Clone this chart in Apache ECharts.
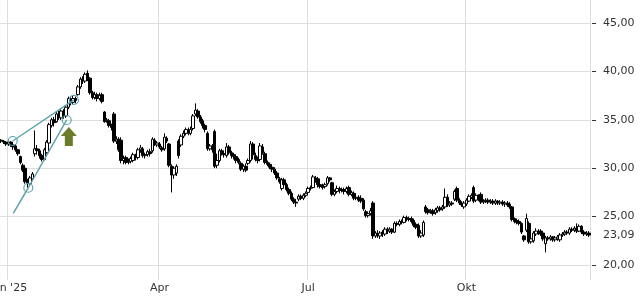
<!DOCTYPE html>
<html><head><meta charset="utf-8">
<script src="https://cdn.jsdelivr.net/npm/echarts@6/dist/echarts.min.js"></script>
<style>html,body{margin:0;padding:0;background:#fff}#c{width:640px;height:300px}</style>
</head><body><div id="c"></div>
<script>
// Calendar (categories = trading days)
const firstDay = '2024-12-23';
const lastDay = '2025-12-11';
const holidays = ['2024-12-24','2024-12-25','2024-12-26','2024-12-31','2025-01-01','2025-04-18','2025-04-21','2025-05-01'];
const quarterLabels = {'01': "Jan '25", '04': 'Apr', '07': 'Jul', '10': 'Okt'};
// Price axis
const yMin = 20, yMax = 45, yStep = 5;
const lastPrice = 23.09;
// Daily candles: [open, close, low, high]
const ohlc = [
[32.9,32.8,32.6,33.0],[32.8,32.7,32.5,32.9],[32.7,32.5,32.3,32.8],[32.5,32.7,32.3,32.9],[32.7,32.4,32.2,32.8],
[32.4,32.2,31.9,32.6],[32.3,31.9,31.7,32.5],[31.9,31.5,31.3,32.0],[31.2,30.6,30.4,31.3],[30.3,29.8,29.6,30.5],
[30.0,28.6,28.4,30.1],[28.6,28.4,28.0,28.9],[28.4,29.0,28.2,29.2],[28.9,29.4,28.7,29.6],[31.5,32.0,31.2,33.9],
[32.0,31.8,31.4,32.4],[31.8,31.3,31.0,32.0],[31.3,30.9,30.7,31.5],[30.9,31.9,30.8,32.1],[31.6,32.7,31.5,32.9],
[32.6,34.5,32.5,34.7],[34.4,35.0,34.2,35.2],[35.0,34.7,34.3,35.3],[34.8,35.6,34.7,35.8],[35.6,35.3,35.0,36.0],
[35.2,35.9,35.0,36.2],[35.9,35.5,35.1,36.1],[35.4,36.3,35.2,36.5],[36.3,37.2,36.1,37.4],[37.1,36.8,36.5,37.4],
[36.8,37.2,36.6,37.5],[37.2,37.0,36.7,37.4],[37.6,38.4,37.5,38.6],[38.4,39.2,38.2,39.4],[39.2,39.0,38.7,39.5],
[39.0,39.7,38.8,39.9],[39.8,39.3,39.0,40.1],[39.3,37.8,37.6,39.4],[37.8,37.3,37.1,38.0],[37.3,37.6,37.1,37.9],
[37.6,37.2,36.9,37.8],[37.2,37.5,37.0,37.8],[37.6,36.9,36.7,37.8],[35.8,34.8,34.7,35.9],[34.9,35.0,34.7,35.2],
[34.9,34.4,34.2,35.1],[34.4,34.2,33.9,34.6],[35.6,32.8,32.6,35.8],[32.8,33.0,32.5,33.3],[33.0,31.9,31.7,33.2],
[32.9,30.8,30.5,33.2],[30.8,31.0,30.4,31.3],[31.1,30.6,30.4,31.3],[30.6,30.7,30.4,31.0],[30.7,31.0,30.5,31.2],
[30.8,31.4,30.6,31.6],[31.3,31.1,30.8,31.5],[31.1,31.9,30.9,32.1],[31.9,32.1,31.6,32.4],[32.0,31.3,31.1,32.2],
[31.3,31.4,31.0,31.6],[31.4,31.7,31.2,31.9],[31.7,31.5,31.2,32.0],[31.8,33.0,31.6,33.2],[32.9,32.5,32.3,33.1],
[32.4,32.6,32.2,32.8],[32.5,32.2,32.0,32.7],[32.1,31.9,31.7,32.3],[32.0,33.2,31.8,33.6],[33.1,32.8,32.6,33.3],
[32.5,30.3,30.1,32.6],[30.2,29.3,27.5,30.4],[29.3,30.0,28.9,30.2],[29.5,30.2,29.2,30.4],[32.8,31.3,31.0,33.0],
[32.4,33.3,32.2,33.5],[33.3,33.6,33.1,33.9],[33.6,34.0,33.4,34.2],[33.9,33.6,33.4,34.2],[33.6,34.0,33.4,34.3],
[34.1,35.4,33.9,35.6],[35.6,36.0,35.4,36.7],[35.9,35.3,35.1,36.1],[35.3,34.8,34.6,35.5],[34.9,34.4,34.1,35.1],
[34.4,34.0,33.7,34.6],[33.6,32.0,31.8,33.8],[32.0,32.3,31.8,32.5],[32.3,31.9,31.6,32.5],[33.8,30.2,30.0,34.0],
[30.3,30.8,30.0,31.5],[30.8,31.8,30.6,32.0],[31.8,31.5,31.3,32.0],[31.5,31.4,31.1,31.7],[31.3,32.2,31.1,32.6],
[32.2,31.6,31.4,32.4],[31.6,31.3,31.0,31.8],[31.4,31.2,30.9,31.6],[31.2,30.8,30.5,31.4],[30.9,30.6,30.4,31.1],
[30.5,29.9,29.7,30.7],[29.9,30.2,29.6,30.4],[30.2,29.8,29.6,30.5],[30.5,30.8,30.3,31.0],[30.8,32.5,30.6,32.8],
[32.5,31.4,30.9,32.7],[31.3,30.9,30.7,31.6],[30.9,30.8,30.5,31.2],[30.9,32.3,30.7,32.6],[32.2,31.6,31.4,32.5],
[31.5,30.6,30.4,31.7],[30.6,30.4,30.2,30.8],[30.4,30.1,29.9,30.6],[30.1,29.9,29.6,30.3],[29.9,29.5,29.3,30.1],
[29.5,29.0,28.8,29.7],[28.9,28.6,28.4,29.1],[27.9,28.8,27.7,29.0],[28.8,28.3,28.1,29.0],[28.3,27.8,27.6,28.5],
[27.8,27.4,27.2,28.0],[27.4,26.8,26.6,27.6],[26.8,26.5,26.3,27.0],[26.5,26.4,26.0,26.7],[26.8,27.1,26.6,27.3],
[27.1,26.9,26.7,27.3],[26.9,27.2,26.7,27.4],[27.2,27.4,27.0,27.6],[27.5,27.9,27.3,28.1],[27.9,28.0,27.7,28.2],
[28.0,29.1,27.9,29.3],[29.0,28.8,28.5,29.2],[28.9,28.3,28.0,29.1],[28.3,28.1,27.9,28.5],[28.2,28.0,27.8,28.4],
[28.1,28.3,27.9,28.5],[28.4,29.0,28.2,29.2],[29.0,28.8,28.6,29.1],[28.5,27.3,27.1,28.6],[27.3,27.6,27.1,27.8],
[27.6,27.9,27.4,28.2],[27.9,27.7,27.4,28.1],[27.7,27.8,27.5,28.0],[27.8,27.6,27.3,28.0],[27.6,27.9,27.4,28.1],
[28.0,27.3,27.1,28.2],[27.3,27.5,27.1,27.7],[27.4,26.9,26.7,27.6],[26.9,27.0,26.7,27.2],[27.0,26.7,26.5,27.2],
[26.9,26.6,26.4,27.2],[26.7,25.8,25.6,26.9],[25.5,25.1,24.9,25.7],[25.1,25.3,24.9,25.5],[25.3,25.6,25.1,25.9],
[26.4,23.0,22.7,26.6],[23.0,23.3,22.8,23.5],[23.2,23.0,22.8,23.6],[23.0,23.3,22.7,23.5],[23.4,23.2,22.9,23.6],
[23.2,23.7,23.0,23.9],[23.7,23.5,23.2,23.9],[23.5,23.7,23.3,23.9],[23.7,23.4,23.2,23.8],[23.4,24.3,23.3,24.5],
[24.3,24.2,24.0,24.5],[24.2,24.5,24.0,24.7],[24.5,24.4,24.2,24.7],[24.4,24.9,24.3,25.1],[24.9,24.7,24.5,25.1],
[24.7,24.8,24.5,25.0],[24.8,24.5,24.3,25.0],[24.6,24.1,23.9,24.8],[24.2,23.9,23.7,24.4],[24.1,23.0,22.8,24.3],
[23.0,23.3,22.8,23.6],[23.1,24.4,22.9,24.6],[26.0,25.5,25.3,26.2],[25.7,25.4,25.2,25.9],[25.5,25.6,25.3,25.8],
[25.6,25.3,25.1,25.8],[25.4,25.7,25.2,25.9],[25.6,25.9,25.4,26.1],[25.9,25.7,25.5,26.1],[25.8,26.0,25.6,26.2],
[26.0,27.0,25.8,27.9],[27.0,26.2,26.0,27.3],[26.2,26.4,26.0,26.6],[26.4,26.3,26.1,26.6],[26.8,27.6,26.6,27.8],
[27.9,26.7,26.5,28.1],[26.7,26.4,26.2,26.9],[26.4,26.2,26.0,26.6],[26.0,26.4,25.8,26.6],[26.3,26.7,26.1,26.9],
[26.6,27.1,26.5,27.3],[27.0,27.2,26.8,27.4],[28.0,26.6,26.4,28.2],[26.7,27.2,26.5,27.4],[27.2,26.9,26.6,27.3],
[27.3,26.5,26.3,27.5],[26.5,26.6,26.3,26.8],[26.6,26.7,26.4,26.9],[26.7,26.5,26.3,26.9],[26.5,26.6,26.3,26.8],
[26.6,26.4,26.2,26.8],[26.4,26.6,26.2,26.8],[26.6,26.4,26.2,26.7],[26.4,26.5,26.2,26.7],[26.5,26.3,26.1,26.7],
[26.3,26.4,26.0,26.6],[26.4,26.2,26.0,26.6],[26.3,26.0,25.8,26.5],[26.0,24.7,24.5,26.1],[24.8,24.5,24.3,24.9],
[24.6,24.4,24.2,24.8],[24.5,24.3,24.1,24.7],[24.3,23.4,23.2,24.4],[23.0,22.6,22.4,23.1],[23.6,24.8,23.4,25.3],
[24.3,22.4,22.2,24.5],[22.4,22.7,22.2,22.9],[22.5,23.3,22.3,23.5],[23.2,23.5,23.0,23.8],[23.5,23.4,23.1,23.7],
[23.5,23.2,23.0,23.7],[23.3,22.7,22.5,23.5],[22.2,22.8,21.3,23.0],[22.8,22.7,22.5,23.0],[22.7,22.9,22.5,23.1],
[22.9,22.6,22.4,23.0],[22.6,22.8,22.4,23.0],[22.7,22.9,22.5,23.1],[22.6,23.1,22.4,23.3],[23.1,23.2,22.9,23.4],
[23.2,23.4,23.0,23.6],[23.4,23.3,23.1,23.6],[23.3,23.7,23.1,23.9],[23.7,23.6,23.4,23.9],[23.6,23.8,23.4,24.0],
[23.8,23.5,23.3,24.3],[23.5,24.0,23.4,24.2],[24.0,23.4,23.2,24.1],[23.4,23.2,23.0,23.6],[23.2,23.3,23.0,23.5],
[23.3,23.09,22.9,23.5]
];
// Drawn annotations (bar index, price)
const trendA = [[4.8, 32.81], [30.3, 37.05]];
const trendB = [[5.04, 25.34], [11.3, 27.98], [27.3, 34.98]];
const arrowAt = [28.2, 33.27];

function tradingDays(a, b, hol) {
  const out = [];
  let d = new Date(a + 'T00:00:00Z');
  const e = new Date(b + 'T00:00:00Z');
  while (d <= e) {
    const w = d.getUTCDay();
    const s = d.toISOString().slice(0, 10);
    if (w !== 0 && w !== 6 && hol.indexOf(s) < 0) out.push(s);
    d = new Date(d.getTime() + 86400000);
  }
  return out;
}
const dates = tradingDays(firstDay, lastDay, holidays);
const N = ohlc.length;
const isQuarterStart = (i) => {
  const v = dates[i];
  if (!v || i === 0) return false;
  const m = v.slice(5, 7);
  return dates[i - 1].slice(5, 7) !== m && quarterLabels[m] !== undefined;
};
const fmt = v => v.toFixed(2).replace('.', ',');
const FONT = 'DejaVu Sans';
const TXT = '#333';
const GRIDC = '#dedede';
const TEAL = '#5fa3ad';

const chart = echarts.init(document.getElementById('c'), null, {renderer: 'canvas'});
chart.setOption({
  animation: false,
  backgroundColor: '#fff',
  grid: [
    {left: 0, right: 50, top: 0, bottom: 20, containLabel: false, outerBoundsMode: 'none'},
    {left: 0, right: 50, top: 23, bottom: 35, containLabel: false, outerBoundsMode: 'none'}
  ],
  xAxis: [
    {gridIndex: 0, type: 'category', data: dates.slice(0, N), boundaryGap: true,
     axisLine: {show: false}, axisTick: {show: false},
     splitLine: {show: true, interval: (i) => isQuarterStart(i), lineStyle: {color: GRIDC, width: 1}},
     axisLabel: {show: true, interval: (i) => isQuarterStart(i), margin: 3, color: TXT, fontFamily: FONT, fontSize: 11,
       formatter: v => quarterLabels[v.slice(5, 7)] || ''}},
    {gridIndex: 0, type: 'category', data: dates.slice(0, N), boundaryGap: true, offset: 20,
     axisLine: {show: false}, splitLine: {show: false}, axisLabel: {show: false},
     axisTick: {show: true, inside: true, length: 5, alignWithLabel: true, interval: (i) => isQuarterStart(i), lineStyle: {color: TXT}}},
    {gridIndex: 1, type: 'category', data: dates.slice(0, N), boundaryGap: true, show: false},
    {gridIndex: 1, type: 'value', min: -0.5, max: N - 0.5, show: false}
  ],
  yAxis: [
    {gridIndex: 0, type: 'value', show: false},
    {gridIndex: 1, type: 'value', position: 'right', min: yMin, max: yMax, interval: yStep,
     axisLine: {show: false}, axisTick: {show: false}, axisLabel: {show: false},
     splitLine: {show: true, lineStyle: {color: GRIDC, width: 1}}},
    {gridIndex: 1, type: 'value', position: 'right', offset: 2, min: yMin, max: yMax, interval: yStep,
     axisLine: {show: false}, splitLine: {show: false},
     axisTick: {show: true, length: 4, lineStyle: {color: TXT}},
     axisLabel: {margin: 11, color: TXT, fontFamily: FONT, fontSize: 11, formatter: fmt}},
    {gridIndex: 1, type: 'value', position: 'right', min: yMin, max: yMax,
     axisLine: {show: false}, splitLine: {show: false}, axisTick: {show: false},
     axisLabel: {margin: 13, color: TXT, fontFamily: FONT, fontSize: 11, customValues: [lastPrice], formatter: fmt}}
  ],
  series: [
    {type: 'candlestick', xAxisIndex: 2, yAxisIndex: 1, data: ohlc, barWidth: 3,
     itemStyle: {color: '#ffffff', color0: '#000000', borderColor: '#000000', borderColor0: '#000000', borderWidth: 1}},
    {type: 'line', xAxisIndex: 3, yAxisIndex: 1, data: trendA, z: 5,
     symbol: 'circle', symbolSize: 9, showSymbol: true,
     lineStyle: {color: TEAL, width: 1.5},
     itemStyle: {color: 'rgba(255,255,255,0)', borderColor: TEAL, borderWidth: 1.2}},
    {type: 'line', xAxisIndex: 3, yAxisIndex: 1, z: 5,
     data: trendB.map((p, k) => k === 0 ? {value: p, symbol: 'none'} : {value: p}),
     symbol: 'circle', symbolSize: 9, showSymbol: true,
     lineStyle: {color: TEAL, width: 1.5},
     itemStyle: {color: 'rgba(255,255,255,0)', borderColor: TEAL, borderWidth: 1.2},
     markPoint: {
       symbol: 'path://M8,0 L16,9 L12,9 L12,19 L4,19 L4,9 L0,9 Z',
       symbolSize: [16, 19], symbolKeepAspect: false,
       itemStyle: {color: '#6b7d2b', borderWidth: 0},
       label: {show: false},
       data: [{coord: arrowAt}]
     }}
  ]
});
</script></body></html>
